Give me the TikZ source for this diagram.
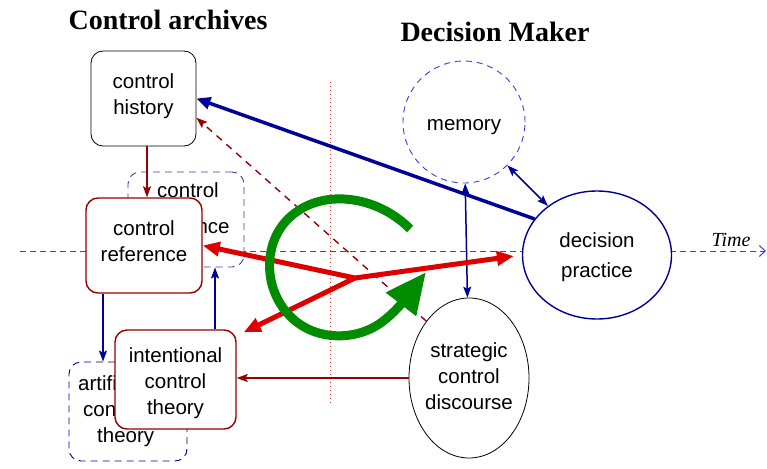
\documentclass[tikz,border=0pt]{standalone}
\usepackage{fontspec}
\setmainfont{Liberation Serif}
\setsansfont{Liberation Sans}
\usetikzlibrary{arrows.meta,shapes.geometric}
\definecolor{dred}{RGB}{150,0,0}
\definecolor{bred}{RGB}{220,0,0}
\definecolor{navy}{RGB}{0,0,150}
\definecolor{dashblue}{RGB}{60,60,230}
\definecolor{gboxblue}{RGB}{60,60,180}
\definecolor{ggreen}{RGB}{0,140,0}
\definecolor{dotred}{RGB}{210,60,60}
\newcommand{\nodefnt}{\sffamily\fontsize{20.5}{26}\selectfont}
\begin{document}
\begin{tikzpicture}[x=1pt,y=-1pt,
  archbox/.style={rectangle, rounded corners=12pt, draw, fill=white, inner sep=0pt, align=center, font=\nodefnt},
  redbox/.style={archbox, draw=dred, line width=1.4pt},
  dashbox/.style={archbox, draw=gboxblue, dashed, dash pattern=on 7pt off 5pt, line width=0.9pt},
  txt/.style={align=center, font=\nodefnt, inner sep=0pt},
  title/.style={font=\bfseries\fontsize{28}{32}\selectfont, inner sep=0pt},
  thinred/.style={draw=dred, line width=1.3pt, -{Stealth[length=11pt,width=8pt,inset=2pt]}},
  thinblue/.style={draw=navy, line width=1.5pt, -{Stealth[length=11pt,width=8pt,inset=2pt]}},
  dblblue/.style={draw=navy, line width=1.5pt, {Stealth[length=11pt,width=8pt,inset=2pt]}-{Stealth[length=11pt,width=8pt,inset=2pt]}},
  bigred/.style={draw=bred, line width=5pt, -{Triangle[length=17pt,width=14pt]}},
]
\useasboundingbox (0,0) rectangle (767,468);

% titles
\node[title] (t1) at (168,20) {Control archives};
\node[title] (t2) at (495,32) {Decision Maker};

% time axis and vertical divider
\coordinate (axl) at (20,251);
\coordinate (axr) at (766,251);
\draw[dashblue, line width=1pt, dash pattern=on 6pt off 4pt, -{Straight Barb[length=6pt,width=11pt]}] (axl) -- (axr);
\node[font=\itshape\fontsize{20}{24}\selectfont, inner sep=0pt] (time) at (731,240) {Time};
\coordinate (vtop) at (330,82);
\coordinate (vbot) at (330,405);
\draw[dotred, line width=1pt, dash pattern=on 1pt off 3pt] (vtop) -- (vbot);

% archive boxes
\node[archbox, draw=black, line width=0.8pt, minimum width=105pt, minimum height=95pt] (ch) at (143.5,98.5) {};
\node[txt] (chtext) at (143.5,96.5) {control\\history};
\node[dashbox, minimum width=116pt, minimum height=95pt] (cg) at (186,219.5) {};
\node[txt] (cgtext) at (188,210) {control\\[10pt]guidance};
\node[redbox, minimum width=116pt, minimum height=95pt] (cr) at (144,245.5) {};
\node[txt] (crtext) at (144,241.5) {control\\reference};
\node[dashbox, draw=navy, minimum width=118pt, minimum height=99pt] (act) at (128,411.5) {};
\node[txt, align=left, anchor=west] (acttext) at (78,411) {artificial\\\hspace*{5pt}control\\\hspace*{19pt}theory};
\node[redbox, minimum width=121pt, minimum height=99pt] (ict) at (175.5,379.5) {};
\node[txt] (icttext) at (175.5,383) {intentional\\control\\theory};

% decision maker
\node[circle, draw=dashblue, dashed, dash pattern=on 6pt off 5pt, line width=0.9pt, minimum size=122pt, inner sep=0pt] (mem) at (464,122) {};
\node[txt] (memtext) at (464,127) {memory};
\node[ellipse, draw=navy, line width=1.4pt, fill=white, minimum width=149pt, minimum height=128pt, inner sep=0pt] (dp) at (597,255) {};
\node[txt] (dptext) at (597,257) {decision\\[4pt]practice};
\node[ellipse, draw=black, line width=0.8pt, fill=white, minimum width=120pt, minimum height=160pt, inner sep=0pt] (sd) at (469,378) {};
\node[txt] (sdtext) at (469,376) {strategic\\control\\discourse};

% thin connectors
\draw[thinred] ([xshift=3.5pt]ch.south) -- ([xshift=3pt]cr.north);
\draw[thinblue] ([xshift=-41pt]cr.south) -- ([xshift=-25pt]act.north);
\draw[thinblue] ([xshift=39.5pt]ict.north) -- ([xshift=29pt]cg.south);
\draw[thinred] (sd.west) -- (sd.west -| ict.east);
\draw[dblblue] (mem) -- (dp);
\draw[dblblue] (mem) -- (sd);
\draw[dred, line width=1.4pt, dash pattern=on 7pt off 6pt, -{Stealth[length=11pt,width=8pt,inset=2pt]}] (sd.north west) -- (ch.-20);
\draw[draw=navy, line width=3.5pt, -{Triangle[length=14pt,width=12pt]}] (dp.150) -- (ch.east);

% red hub arrows
\coordinate (hub) at (355,278);
\draw[bigred] (hub) -- (cr.east);
\draw[bigred] (hub) -- ([shift={(7,3)}]ict.north east);
\draw[bigred, shorten >=8pt] (hub) -- (dp.west);

% green cycle
\coordinate (gs) at (410,229);
\coordinate (ge) at (426,272);
\draw[ggreen, line width=9pt, -{Triangle[length=41pt,width=36pt]}]
  (gs) .. controls (378,196) and (320,186) .. (287,220)
       .. controls (262,246) and (264,292) .. (292,318)
       .. controls (315,340) and (355,342) .. (382,322)
       .. controls (394,313) and (402,303) .. (ge);
\end{tikzpicture}
\end{document}
